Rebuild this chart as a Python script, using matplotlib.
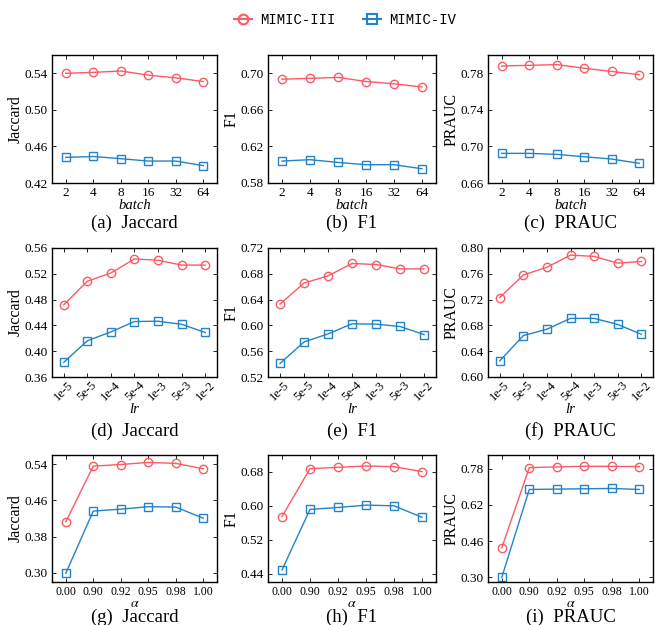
import numpy as np
import matplotlib
matplotlib.use('Agg')
import matplotlib.pyplot as plt
from matplotlib.lines import Line2D

plt.rcParams['font.family'] = ['Liberation Serif', 'DejaVu Serif']
plt.rcParams['mathtext.fontset'] = 'stix'

# x categories
batch = ['2', '4', '8', '16', '32', '64']
lr = ['1e-5', '5e-5', '1e-4', '5e-4', '1e-3', '5e-3', '1e-2']
alpha = ['0.00', '0.90', '0.92', '0.95', '0.98', '1.00']

# batch row
jac_batch_iii = [0.540, 0.541, 0.5425, 0.538, 0.535, 0.531]
jac_batch_iv = [0.448, 0.449, 0.4466, 0.444, 0.444, 0.439]
f1_batch_iii = [0.6935, 0.6945, 0.6955, 0.691, 0.6885, 0.685]
f1_batch_iv = [0.604, 0.6055, 0.6025, 0.600, 0.600, 0.5956]
pr_batch_iii = [0.788, 0.7887, 0.7895, 0.7855, 0.782, 0.7785]
pr_batch_iv = [0.6924, 0.6924, 0.6913, 0.6887, 0.6862, 0.6815]

# lr row
jac_lr_iii = [0.472, 0.5085, 0.5213, 0.543, 0.541, 0.5335, 0.5335]
jac_lr_iv = [0.3828, 0.4162, 0.430, 0.446, 0.4465, 0.4417, 0.429]
f1_lr_iii = [0.633, 0.6657, 0.6767, 0.696, 0.6944, 0.6876, 0.6876]
f1_lr_iv = [0.541, 0.5743, 0.5868, 0.6025, 0.602, 0.5983, 0.5858]
pr_lr_iii = [0.7232, 0.7582, 0.7702, 0.789, 0.787, 0.7765, 0.7791]
pr_lr_iv = [0.625, 0.6642, 0.6741, 0.6909, 0.6909, 0.6815, 0.6663]

# alpha row
jac_a_iii = [0.4125, 0.5355, 0.539, 0.5437, 0.5415, 0.5296]
jac_a_iv = [0.299, 0.4364, 0.4406, 0.446, 0.4452, 0.4206]
f1_a_iii = [0.5744, 0.6878, 0.6909, 0.694, 0.6924, 0.6808]
f1_a_iv = [0.4485, 0.5915, 0.596, 0.6016, 0.600, 0.5728]
pr_a_iii = [0.4304, 0.7844, 0.7874, 0.7904, 0.790, 0.789]
pr_a_iv = [0.300, 0.688, 0.6896, 0.691, 0.6926, 0.688]

RED = '#fb5b66'
BLUE = '#2284c6'

W, H = 655, 625
fig = plt.figure(figsize=(W / 100, H / 100), dpi=100)

def px_axes(x0, y0, x1, y1):
    return fig.add_axes([x0 / W, 1 - y1 / H, (x1 - x0) / W, (y1 - y0) / H])

def panel(ax, cats, iii, iv, ylim, yticks, ylabel, xlabel, caption_y, caption, rot=0, fs=9.5):
    x = np.arange(len(cats))
    ax.plot(x, iii, color=RED, lw=1, marker='o', ms=6, mfc='none', mec=RED, mew=1)
    ax.plot(x, iv, color=BLUE, lw=1, marker='s', ms=6, mfc='none', mec=BLUE, mew=1)
    ax.set_xlim(-0.5, len(cats) - 0.5)
    ax.set_ylim(*ylim)
    ax.set_yticks(yticks)
    ax.set_yticklabels(['%.2f' % v for v in yticks], fontsize=9.5)
    ax.set_xticks(x)
    if rot:
        ax.set_xticklabels(cats, rotation=rot, fontsize=fs, ha='center')
    else:
        ax.set_xticklabels(cats, fontsize=fs)
    ax.tick_params(direction='in', top=True, right=True, length=3, width=0.6, pad=3)
    if rot:
        ax.tick_params(axis='x', pad=1.5)
    ax.set_ylabel(ylabel, fontsize=11.5, labelpad=1)
    if xlabel == 'alpha':
        ax.set_xlabel(r'$\alpha$', fontsize=10, labelpad=-1)
    else:
        ax.set_xlabel(xlabel, fontsize=10.5, style='italic', labelpad=0)
    for s in ax.spines.values():
        s.set_linewidth(1)
    # caption placed in figure pixels
    bb = ax.get_position()
    fig.text(bb.x0 + bb.width / 2, 1 - caption_y / H, caption, ha='center',
             va='center', fontsize=13.5)

cols = [(52, 217), (268, 436), (488, 653)]

# row 1
r = (55, 183)
a1 = px_axes(cols[0][0], r[0], cols[0][1], r[1])
panel(a1, batch, jac_batch_iii, jac_batch_iv, (0.42, 0.56), [0.42, 0.46, 0.50, 0.54],
      'Jaccard', 'batch', 223, '(a)  Jaccard')
a2 = px_axes(cols[1][0], r[0], cols[1][1], r[1])
panel(a2, batch, f1_batch_iii, f1_batch_iv, (0.58, 0.72), [0.58, 0.62, 0.66, 0.70],
      'F1', 'batch', 223, '(b)  F1')
a3 = px_axes(cols[2][0], r[0], cols[2][1], r[1])
panel(a3, batch, pr_batch_iii, pr_batch_iv, (0.66, 0.80), [0.66, 0.70, 0.74, 0.78],
      'PRAUC', 'batch', 223, '(c)  PRAUC')

# row 2
r = (248, 377)
b1 = px_axes(cols[0][0], r[0], cols[0][1], r[1])
panel(b1, lr, jac_lr_iii, jac_lr_iv, (0.36, 0.56), [0.36, 0.40, 0.44, 0.48, 0.52, 0.56],
      'Jaccard', 'lr', 431, '(d)  Jaccard', rot=45, fs=9)
b2 = px_axes(cols[1][0], r[0], cols[1][1], r[1])
panel(b2, lr, f1_lr_iii, f1_lr_iv, (0.52, 0.72), [0.52, 0.56, 0.60, 0.64, 0.68, 0.72],
      'F1', 'lr', 431, '(e)  F1', rot=45, fs=9)
b3 = px_axes(cols[2][0], r[0], cols[2][1], r[1])
panel(b3, lr, pr_lr_iii, pr_lr_iv, (0.60, 0.80), [0.60, 0.64, 0.68, 0.72, 0.76, 0.80],
      'PRAUC', 'lr', 431, '(f)  PRAUC', rot=45, fs=9)

# row 3
r = (455, 582)
c1 = px_axes(cols[0][0], r[0], cols[0][1], r[1])
panel(c1, alpha, jac_a_iii, jac_a_iv, (0.28, 0.56), [0.30, 0.38, 0.46, 0.54],
      'Jaccard', 'alpha', 617, '(g)  Jaccard', fs=8.5)
c2 = px_axes(cols[1][0], r[0], cols[1][1], r[1])
panel(c2, alpha, f1_a_iii, f1_a_iv, (0.42, 0.72), [0.44, 0.52, 0.60, 0.68],
      'F1', 'alpha', 617, '(h)  F1', fs=8.5)
c3 = px_axes(cols[2][0], r[0], cols[2][1], r[1])
panel(c3, alpha, pr_a_iii, pr_a_iv, (0.28, 0.84), [0.30, 0.46, 0.62, 0.78],
      'PRAUC', 'alpha', 617, '(i)  PRAUC', fs=8.5)

handles = [Line2D([], [], color=RED, lw=1.5, marker='o', ms=7, mfc='none', mec=RED, mew=1.5),
           Line2D([], [], color=BLUE, lw=1.5, marker='s', ms=7, mfc='none', mec=BLUE, mew=1.5)]
fig.legend(handles, ['MIMIC-III', 'MIMIC-IV'], loc='center', bbox_to_anchor=(345 / W, 1 - 20 / H),
           ncol=2, frameon=False, handlelength=1.3, columnspacing=2.0, handletextpad=0.6,
           prop={'family': 'Liberation Mono', 'size': 10})

fig.savefig('out.png', dpi=100)
